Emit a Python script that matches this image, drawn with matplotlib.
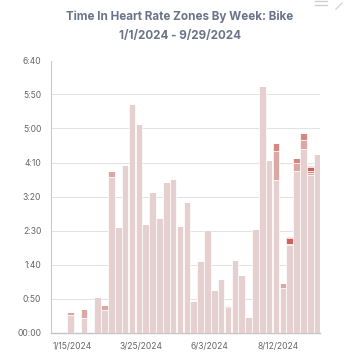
import matplotlib
matplotlib.use('Agg')
import matplotlib.pyplot as plt
import numpy as np
import pandas as pd
from matplotlib.ticker import FuncFormatter, FixedLocator
from matplotlib.lines import Line2D

plt.rcParams['font.family'] = ['Inter', 'DejaVu Sans']

# ---- data (minutes per week, by heart-rate zone) ----
weeks = pd.date_range('2024-01-01', periods=39, freq='7D')
zone1 = [0, 0, 26, 0, 21, 0, 52, 33, 228, 155, 247, 336, 307, 159, 207, 169, 221, 226,
         157, 192, 47, 105, 151, 62, 78, 38, 107, 84, 23, 152, 362, 254, 224, 66, 128,
         238, 270, 231, 263]
zone2 = [0, 0, 4, 0, 14, 0, 0, 7, 10, 0, 0, 0, 0, 0, 0, 0, 0, 0,
         0, 0, 0, 0, 0, 0, 0, 0, 0, 0, 0, 0, 0, 0, 43, 7, 2.5,
         12, 13, 3, 0]
zone3 = [0, 0, 0, 0, 0, 0, 0, 0, 0, 0, 0, 0, 0, 0, 0, 0, 0, 0,
         0, 0, 0, 0, 0, 0, 0, 0, 0, 0, 0, 0, 0, 0, 11, 0, 0,
         7, 10, 3, 0]
zone4 = [0, 0, 0, 0, 0, 0, 0, 0, 0, 0, 0, 0, 0, 0, 0, 0, 0, 0,
         0, 0, 0, 0, 0, 0, 0, 1.5, 0, 0, 0, 0, 0, 0, 0, 0, 8,
         0, 0, 6, 0]
zone5 = [0, 0, 0, 0, 0, 0, 0, 0, 0, 0, 0, 0, 0, 0, 0, 0, 0, 0,
         0, 0, 0, 0, 0, 0, 0, 0, 0, 0, 0, 0, 0, 0, 0, 0, 2.5,
         0, 0, 2.5, 0]
zone_names = ['Zone 1', 'Zone 2', 'Zone 3', 'Zone 4', 'Zone 5']
zone_colors = ['#e5cfcf', '#dba8a4', '#d4867f', '#cc6258', '#c23a2e']
tick_dates = ['2024-01-15', '2024-03-25', '2024-06-03', '2024-08-12']
tick_labels = ['1/15/2024', '3/25/2024', '6/3/2024', '8/12/2024']
y_ticks = list(range(0, 401, 50))

title = 'Time In Heart Rate Zones By Week: Bike'
subtitle = '1/1/2024 - 9/29/2024'

# ---- figure ----
W, H = 356, 362
fig = plt.figure(figsize=(W / 100, H / 100), dpi=100)
ax = fig.add_axes([51 / W, 29.5 / H, 269 / W, 272 / H])

x = np.arange(len(weeks))
bottom = np.zeros(len(weeks))
for name, vals, col in zip(zone_names, [zone1, zone2, zone3, zone4, zone5], zone_colors):
    v = np.array(vals, dtype=float)
    ax.bar(x, v, width=0.97, bottom=bottom, color=col, edgecolor='white',
           linewidth=0.5, label=name, zorder=3)
    bottom += v

ax.set_xlim(-0.81, 38.42)
ax.set_ylim(0, 400)

week_idx = {d.strftime('%Y-%m-%d'): i for i, d in enumerate(weeks)}
ax.xaxis.set_major_locator(FixedLocator([week_idx[d] + 0.35 for d in tick_dates]))
ax.set_xticklabels(tick_labels)

def fmt(v, pos):
    m = int(round(v))
    if m == 0:
        return '00:00'
    return f'{m // 60}:{m % 60:02d}'

ax.yaxis.set_major_locator(FixedLocator(y_ticks))
ax.yaxis.set_major_formatter(FuncFormatter(fmt))

ax.grid(axis='y', color='#e2e2e2', linewidth=0.75, zorder=0)
ax.set_axisbelow(True)
fig.canvas.draw()
gl = ax.yaxis.get_gridlines()
gl[-1].set_visible(False)
gl[0].set_visible(False)

for s in ['top', 'right']:
    ax.spines[s].set_visible(False)
ax.spines['left'].set_color('#c8c8c8')
ax.spines['left'].set_linewidth(0.75)
ax.spines['bottom'].set_color('#c4c4c4')
ax.spines['bottom'].set_linewidth(1.0)

ax.tick_params(axis='both', length=0, labelsize=6.1, labelcolor='#666666')
ax.tick_params(axis='y', pad=7)
ax.tick_params(axis='x', pad=7)

fig.text(180 / W, 1 - 17 / H, title, ha='center', va='center', fontsize=8.4,
         fontweight='bold', color='#6a7388')
fig.text(180 / W, 1 - 36 / H, subtitle, ha='center', va='center', fontsize=8.4,
         fontweight='bold', color='#6a7388')

# export-menu icon (partially cut off at the top)
for yy in [1.2, 5.0]:
    fig.add_artist(Line2D([315 / W, 327 / W], [1 - yy / H, 1 - yy / H],
                          color='#cfcfcf', linewidth=1.0))
fig.add_artist(Line2D([336 / W, 342 / W], [1 - 9 / H, 1 - 3 / H],
                      color='#d6d6d6', linewidth=1.0))

fig.savefig('out.png', dpi=100)
